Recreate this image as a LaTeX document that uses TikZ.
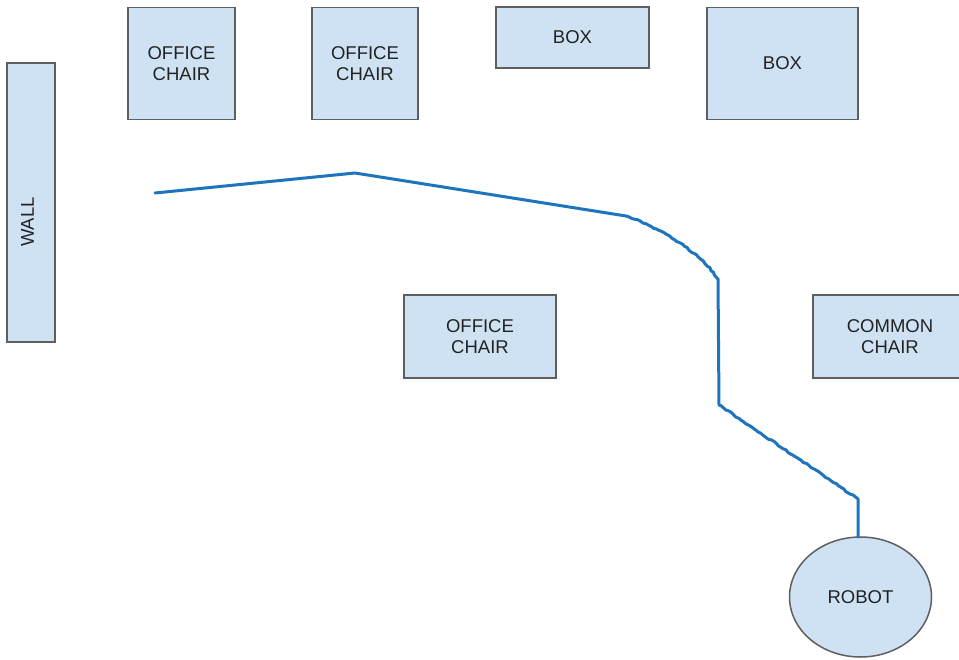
\documentclass[tikz,border=0pt]{standalone}
\usepackage{fontspec}
\setmainfont{Liberation Sans}
\usetikzlibrary{shapes.geometric,decorations.pathmorphing}
\definecolor{objfill}{HTML}{CFE2F3}
\definecolor{objline}{HTML}{5F5F5F}
\definecolor{route}{HTML}{1E74BD}
\definecolor{labeltext}{HTML}{222222}
\tikzset{
  labelfont/.style={text=labeltext, font=\fontsize{18.5pt}{21pt}\selectfont},
  obstacle/.style={draw=objline, fill=objfill, line width=1.5pt, rectangle,
    inner sep=0pt, outer sep=0pt, align=center, labelfont},
  robotbody/.style={obstacle, ellipse},
  routeline/.style={draw=route, line width=3pt, line join=round, line cap=round},
  wobble/.style={decoration={random steps, segment length=3pt, amplitude=0.7pt}}
}
\begin{document}
\begin{tikzpicture}[x=1pt, y=-1pt]
  \useasboundingbox (0,0) rectangle (959,659);
  \clip (0,0) rectangle (959,659);
  \fill[white] (0,0) rectangle (959,659);
  \pgfmathsetseed{7}

  % room layout
  \node[obstacle, minimum width=48pt, minimum height=279pt] (wall) at (31,202.5) {};
  \node[rotate=90, labelfont] (walllabel) at (27.5,222) {WALL};
  \node[obstacle, minimum width=107pt, minimum height=112pt] (chairA) at (181.5,63.5) {OFFICE\\CHAIR};
  \node[obstacle, minimum width=106pt, minimum height=112pt] (chairB) at (365,63.5) {OFFICE\\CHAIR};
  \node[obstacle, minimum width=153pt, minimum height=61pt] (boxA) at (572.5,37.5) {BOX};
  \node[obstacle, minimum width=151pt, minimum height=112pt] (boxB) at (782.5,63.5) {BOX};
  \node[obstacle, minimum width=152pt, minimum height=83pt] (chairC) at (480,336.5) {OFFICE\\CHAIR};
  \node[obstacle, minimum width=154pt, minimum height=83pt] (common) at (890,336.5) {COMMON\\CHAIR};
  \node[robotbody, minimum width=142pt, minimum height=120pt] (robot) at (860.5,597) {ROBOT};

  % planned route towards the robot
  \coordinate (start) at (155,193);
  \coordinate (peak) at (355,173);
  \coordinate (bendA) at (626,216);
  \coordinate (bendB) at (718,279);
  \coordinate (bendC) at (719,405);
  \coordinate (bendD) at (858,499);
  \draw[routeline] (start) -- (peak) -- (bendA)
    decorate[wobble]{ .. controls (660,228) and (700,252) .. (bendB) }
    -- (bendC)
    decorate[wobble]{ -- (bendD) }
    -- (bendD |- robot.north);
\end{tikzpicture}
\end{document}
